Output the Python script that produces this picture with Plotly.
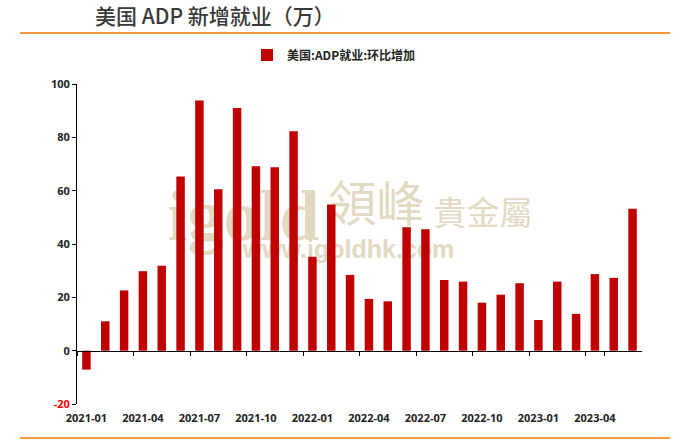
import plotly.graph_objects as go

months = ["2021-01", "2021-02", "2021-03", "2021-04", "2021-05", "2021-06",
          "2021-07", "2021-08", "2021-09", "2021-10", "2021-11", "2021-12",
          "2022-01", "2022-02", "2022-03", "2022-04", "2022-05", "2022-06",
          "2022-07", "2022-08", "2022-09", "2022-10", "2022-11", "2022-12",
          "2023-01", "2023-02", "2023-03", "2023-04", "2023-05", "2023-06"]
adp_change = [-7.1, 11.0, 22.6, 29.8, 31.8, 65.3, 93.8, 60.5, 91.0, 69.2, 68.8, 82.3,
              35.2, 54.8, 28.4, 19.4, 18.5, 46.3, 45.5, 26.5, 25.9, 18.0, 21.0, 25.3,
              11.5, 25.9, 13.8, 28.7, 27.3, 53.2]
tick_months = months[::3]
y_ticks = [-20, 0, 20, 40, 60, 80, 100]
y_ticktext = ['<span style="color:#ff0000">-20</span>', "0", "20", "40", "60", "80", "100"]

series_name = "美国:ADP就业:环比增加"
title_text = "美国 ADP 新增就业（万）"

CJK = "Noto Sans CJK SC"
tick_font = dict(family="Open Sans, " + CJK, size=11, color="#222222", weight="bold")

fig = go.Figure()
fig.add_trace(go.Bar(x=months, y=adp_change, name=series_name,
                     marker=dict(color="#c00000", line=dict(width=0)),
                     width=0.45, showlegend=True))
# helper trace so the zero-level tick axis is drawn
fig.add_trace(go.Scatter(x=months, y=adp_change, xaxis="x2", yaxis="y",
                         mode="markers", marker=dict(opacity=0),
                         showlegend=False, hoverinfo="skip"))

# plot-area geometry (px) -> paper helpers for decorations
L, R, T, B = 77, 642, 84, 404
def px(xp):
    return (xp - L) / (R - L)
def py(yp):
    return (B - yp) / (B - T)

shapes = [
    dict(type="line", xref="paper", yref="paper", x0=px(20), x1=px(670),
         y0=py(33), y1=py(33), line=dict(color="#f79a3e", width=2)),
    dict(type="line", xref="paper", yref="paper", x0=px(20), x1=px(670),
         y0=py(438), y1=py(438), line=dict(color="#f79a3e", width=2)),
]
wm = "#e2d9c2"
def wm_label(text, x0, x1, y0, y1, family, size, weight="normal"):
    return dict(type="rect", xref="paper", yref="paper", layer="below",
                x0=px(x0), x1=px(x1), y0=py(y1), y1=py(y0),
                line=dict(width=0), fillcolor="rgba(0,0,0,0)",
                label=dict(text=text, textposition="middle center",
                           font=dict(family=family, size=size, color=wm, weight=weight)))
shapes += [
    wm_label("igold", 162, 325, 170, 246, "Liberation Serif", 72, "bold"),
    wm_label("領峰", 328, 425, 180, 236, CJK, 48),
    wm_label("貴金屬", 430, 536, 198, 234, CJK, 33),
    wm_label("www.igoldhk.com", 225, 472, 234, 260, "Liberation Sans", 25, "bold"),
]

fig.update_layout(
    width=700, height=444,
    margin=dict(l=L, r=700 - R, t=T, b=444 - B),
    paper_bgcolor="white", plot_bgcolor="white",
    title=dict(text=title_text, xref="container", yref="container",
               x=95 / 700, xanchor="left", y=1 - 17 / 444, yanchor="middle",
               font=dict(family=CJK, size=21, color="#3a3a3a", weight=500)),
    legend=dict(orientation="h", x=px(334), xanchor="center", y=py(55), yanchor="middle",
                font=dict(family=CJK, size=12, color="#222222", weight="bold"),
                bgcolor="rgba(0,0,0,0)", itemwidth=30),
    xaxis=dict(type="category", categoryorder="array", categoryarray=months,
               range=[-0.5, len(months) - 0.5], tickvals=tick_months, ticktext=tick_months,
               showline=False, ticks="", showgrid=False, zeroline=False,
               tickfont=tick_font, ticklabelstandoff=6),
    xaxis2=dict(type="category", categoryorder="array", categoryarray=months,
                matches="x", overlaying="x", anchor="free", position=20 / 120,
                tickvals=tick_months, tickson="boundaries", ticks="outside", ticklen=4,
                tickcolor="#000000", showline=True, linecolor="#000000", linewidth=1,
                showticklabels=False, showgrid=False, zeroline=False),
    yaxis=dict(range=[-20, 100], tickvals=y_ticks, ticktext=y_ticktext,
               showline=True, linecolor="#000000", linewidth=1, ticks="outside",
               ticklen=4, tickcolor="#000000", showgrid=False, zeroline=False,
               tickfont=tick_font),
    shapes=shapes,
    bargap=0.55,
)

fig.write_html("out.html", config={"displayModeBar": False},
               post_script="document.body.style.margin='0';document.body.style.overflow='hidden';")
